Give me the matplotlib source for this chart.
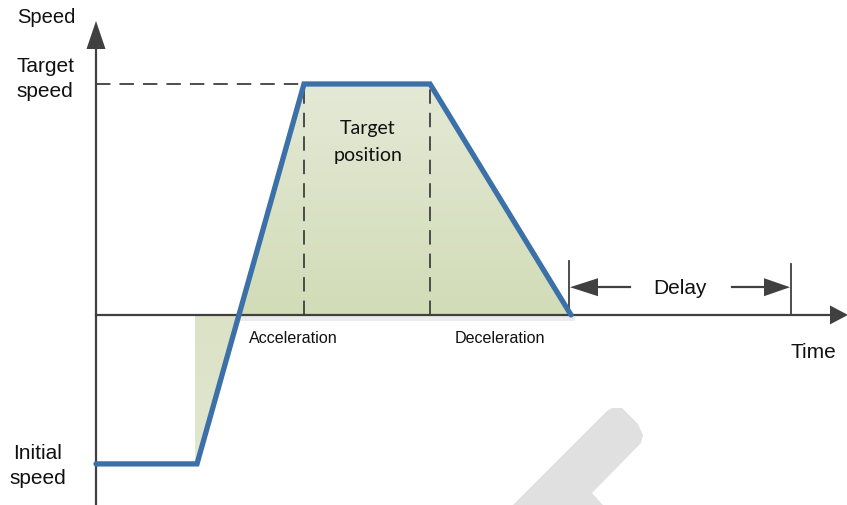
import numpy as np
import matplotlib
matplotlib.use("Agg")
import matplotlib.pyplot as plt
from matplotlib.patches import Polygon
from matplotlib.colors import LinearSegmentedColormap

# ---- data (abstract units: time, speed relative to target speed) ----
profile_time = [0.0, 1.01, 2.08, 3.34, 4.75]
profile_speed = [-0.645, -0.645, 1.0, 1.0, 0.0]
fill_start_time = 0.99          # left edge of the shaded area below the axis
delay_start = 4.73
delay_end = 6.95
labels_main = {"speed": "Speed", "target": "Target\nspeed", "initial": "Initial\nspeed",
               "time": "Time", "delay": "Delay"}
phase_labels = ["Acceleration", "Deceleration"]
area_label = "Target\nposition"

# ---- figure ----
W, H = 847, 506
fig = plt.figure(figsize=(W / 100, H / 100), dpi=100)
ax = fig.add_axes([0, 0, 1, 1])
XMIN, XMAX = -0.96, 7.51
YMIN, YMAX = -0.823, 1.368
ax.set_xlim(XMIN, XMAX)
ax.set_ylim(YMIN, YMAX)
ax.axis("off")

px = (XMAX - XMIN) / W      # data units per pixel (x)
py = (YMAX - YMIN) / H      # data units per pixel (y)

axis_col = "#404040"
blue = "#3b70a8"
font = ["Liberation Sans", "DejaVu Sans"]
txt_col = "#111111"

t = np.array(profile_time)
v = np.array(profile_speed)
# zero crossing on the acceleration ramp
i = 1
t0 = t[i] + (0 - v[i]) / (v[i + 1] - v[i]) * (t[i + 1] - t[i])

# --- watermark-like grey shape (decoration) ---
wm = [(513, 506), (607, 412), (612, 409), (622, 409), (638, 425), (643, 436),
      (641, 444), (592, 494), (603, 506)]
wm_d = [(XMIN + x * px, YMAX - y * py) for x, y in wm]
ax.add_patch(Polygon(wm_d, closed=True, facecolor="#e0e0e0", edgecolor="none", zorder=0))

# --- gradient fill above axis ---
poly_pts = [(t0, 0)] + list(zip(t[2:], v[2:]))
poly = Polygon(poly_pts, closed=True, facecolor="none", edgecolor="none")
ax.add_patch(poly)
cmap_up = LinearSegmentedColormap.from_list("up", ["#d2dcb7", "#e4e9d6"])
grad = np.linspace(0, 1, 256).reshape(-1, 1)
im = ax.imshow(grad, cmap=cmap_up, origin="lower", aspect="auto",
               extent=[t0, t[4], 0, 1.0], zorder=1, interpolation="bilinear")
im.set_clip_path(poly)

# --- fill below axis ---
low_pts = [(fill_start_time, 0), (t0, 0), (t[1], v[1]), (fill_start_time, v[1])]
poly2 = Polygon(low_pts, closed=True, facecolor="none", edgecolor="none")
ax.add_patch(poly2)
cmap_low = LinearSegmentedColormap.from_list("low", ["#e2e7d1", "#dbe2c5"])
im2 = ax.imshow(grad, cmap=cmap_low, origin="lower", aspect="auto",
                extent=[fill_start_time, t0, v[1], 0], zorder=1, interpolation="bilinear")
im2.set_clip_path(poly2)

# light shadow under the axis
ax.fill_between([fill_start_time, t[4] + 4 * px], -6 * py, -1 * py,
                color="#ececec", lw=0, zorder=0.5)

# --- axes with arrows ---
ax.plot([0, 0], [YMIN, YMAX - 48 * py], color=axis_col, lw=1.6, zorder=3)
ax.plot([0, XMAX - 15 * px], [0, 0], color=axis_col, lw=1.6, zorder=3)
ax.add_patch(Polygon([(0, YMAX - 22 * py), (-9.5 * px, YMAX - 50 * py), (9.5 * px, YMAX - 50 * py)],
                     closed=True, facecolor=axis_col, edgecolor="none", zorder=4))
ax.add_patch(Polygon([(XMAX + 1 * px, 0), (XMAX - 17 * px, 9.5 * py), (XMAX - 17 * px, -9.5 * py)],
                     closed=True, facecolor=axis_col, edgecolor="none", zorder=4))

# --- dashed guides ---
ax.plot([0, t[2]], [1, 1], color=axis_col, lw=1.3, ls=(0, (8, 5)), zorder=2)
for tt in (t[2], t[3]):
    ax.plot([tt, tt], [0, 1], color=axis_col, lw=1.3, ls=(0, (8, 5)), zorder=2)

# --- speed profile ---
ax.plot(t, v, color=blue, lw=3.8, solid_joinstyle="miter", solid_capstyle="round", zorder=5)

# --- delay ---
dy_top = 0.235
ax.plot([delay_start, delay_start], [0, dy_top], color=axis_col, lw=1.3, zorder=3)
ax.plot([delay_end, delay_end], [0, dy_top - 3 * py], color=axis_col, lw=1.3, zorder=3)
ya = 0.12
ax.plot([delay_start + 26 * px, delay_start + 61 * px], [ya, ya], color=axis_col, lw=1.6, zorder=3)
ax.plot([delay_end - 59 * px, delay_end - 24 * px], [ya, ya], color=axis_col, lw=1.6, zorder=3)
ax.add_patch(Polygon([(delay_start + 1 * px, ya), (delay_start + 29 * px, ya + 9 * py),
                      (delay_start + 29 * px, ya - 9 * py)],
                     closed=True, facecolor=axis_col, edgecolor="none", zorder=4))
ax.add_patch(Polygon([(delay_end - 1 * px, ya), (delay_end - 27 * px, ya + 9 * py),
                      (delay_end - 27 * px, ya - 9 * py)],
                     closed=True, facecolor=axis_col, edgecolor="none", zorder=4))
ax.text((delay_start + delay_end) / 2, ya, labels_main["delay"], fontsize=15,
        family=font, ha="center", va="center", color=txt_col)

# --- labels ---
ax.text(XMIN + 46 * px, YMAX - 18 * py, labels_main["speed"], fontsize=14.5, family=font,
        ha="center", va="center", color=txt_col)
ax.text(XMIN + 45 * px, YMAX - 79 * py, labels_main["target"], fontsize=15, family=font,
        ha="center", va="center", color=txt_col, linespacing=1.45)
ax.text(XMIN + 38 * px, YMAX - 466 * py, labels_main["initial"], fontsize=15, family=font,
        ha="center", va="center", color=txt_col, linespacing=1.45)
ax.text(XMIN + 813 * px, -37 * py, labels_main["time"], fontsize=15, family=font,
        ha="center", va="center", color=txt_col)
ax.text(XMIN + 293 * px, -23 * py, phase_labels[0], fontsize=11.6, family=font,
        ha="center", va="center", color=txt_col)
ax.text(XMIN + 500 * px, -23 * py, phase_labels[1], fontsize=11.6, family=font,
        ha="center", va="center", color=txt_col)
ax.text((t[2] + t[3]) / 2 + 1 * px, YMAX - 142 * py, area_label, fontsize=14,
        family=["Lato", "DejaVu Sans"], ha="center", va="center", color=txt_col,
        linespacing=1.65)

fig.savefig("out.png", dpi=100)
